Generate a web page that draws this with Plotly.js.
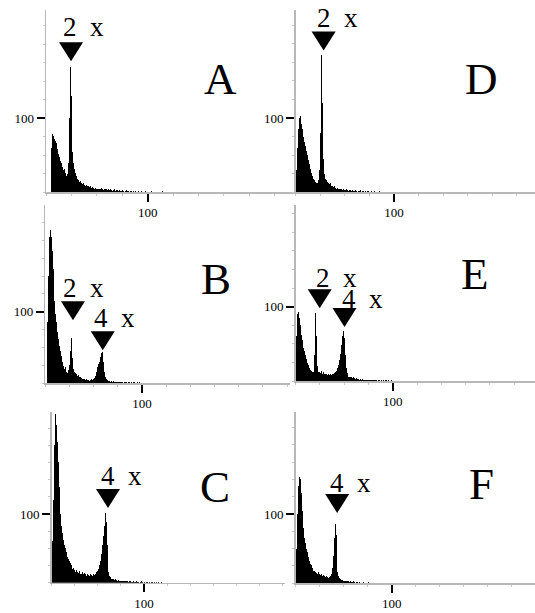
<!DOCTYPE html>
<html><head><meta charset="utf-8">
<script src="https://cdn.plot.ly/plotly-3.0.1.min.js"></script>
<style>html,body{margin:0;padding:0;background:#fff}#chart{width:535px;height:613px}</style>
</head><body><div id="chart"></div>
<script>
// ---------------- DATA ----------------
const panelNames = ['A', 'B', 'C', 'D', 'E', 'F'];
const tickValue = 100;
const tickLabel = '100';

// histogram counts per channel, starting at channel start*
const startA = 5;
const countsA = [60, 79, 76, 72, 70, 66, 58, 52, 48, 42, 40, 34, 30, 32, 26, 22, 25, 40, 100, 169, 130, 54, 40, 32, 26, 22,
  18, 16, 14, 15, 12, 11, 13, 10, 9, 10, 8, 9, 7, 8, 6, 7, 6, 5, 6, 5,
  5, 4, 5, 4, 6, 4, 3, 4, 5, 3, 4, 3, 4, 3, 2, 3, 4, 2, 3, 3, 2, 3, 2, 2, 3, 2, 1, 2, 3, 2, 2, 1, 2, 2, 1, 2, 1, 2, 1, 1,
  2, 1, 1, 2, 1, 0, 1, 2, 1, 1, 0, 1, 1, 2, 0, 1, 1, 0, 1, 1, 0, 1, 0, 1, 2, 0, 1, 0, 1, 1, 0, 0, 1, 0, 1, 0, 0, 1, 0, 1];

const startB = 2;
const countsB = [85, 150, 205, 215, 205, 185, 160, 135, 115, 97, 85, 72, 62, 52, 45, 38, 30, 24, 20, 22, 16, 14, 18, 25, 45, 63, 35, 20, 16,
  14, 12, 10, 11, 9, 8, 7, 6, 6, 5, 5, 4, 5, 4, 4, 3, 4, 5, 4, 5,
  7, 10, 16, 22, 26, 30, 36, 42, 44, 30, 15, 8, 5, 4, 3, 3,
  2, 3, 2, 2, 3, 1, 2, 2, 1, 2, 1, 1, 2, 1, 0, 1, 1, 2, 0, 1, 1, 0, 1, 0, 1, 1, 0, 0, 1, 0, 1, 0, 0, 1];

const startC = 1;
const countsC = [60, 120, 200, 245, 230, 205, 175, 140, 120, 100, 82, 72, 62, 55, 50, 45, 38, 35,
  32, 28, 26, 24, 20, 22, 18, 16, 19, 15, 14, 17, 13, 12, 15, 12, 11, 14, 12, 10, 12, 11, 10, 12, 11, 10, 12, 11, 13, 12, 15, 17,
  20, 26, 32, 42, 55, 68, 82, 101, 88, 55, 28, 15, 10, 8, 6, 5,
  5, 4, 5, 4, 3, 4, 3, 3, 2, 3, 2, 3, 2, 2, 3, 2, 1, 2, 2, 1, 2, 1, 2, 1, 1, 2, 1, 1, 0, 1, 2, 1, 0, 1, 1, 0, 1, 1, 0, 1, 0, 1, 1, 0, 1, 0, 0, 1, 0, 1, 0, 0, 1, 0];

const startD = 1;
const countsD = [30, 60, 85, 100, 103, 92, 85, 75, 68, 62, 55, 50, 44, 38, 32, 26, 22, 18, 16, 14, 13, 12, 16, 30, 80, 185, 120, 45, 25, 18,
  16, 14, 13, 11, 12, 9, 8, 7, 8, 6, 7, 5, 6, 5, 4, 5, 4, 3, 4, 3,
  3, 4, 3, 2, 3, 3, 2, 3, 2, 2, 3, 2, 1, 2, 2, 3, 1, 2, 2, 1, 2, 1, 2, 2, 1, 1, 2, 1, 1, 2, 1, 1, 0, 1, 2, 1, 0, 1, 1, 0,
  1, 1, 0, 1, 0, 1, 1, 0, 0, 1, 0, 1, 0, 0, 1, 0, 1, 0, 0, 1, 0, 0, 1, 0, 1, 0, 0, 1, 0, 0, 1, 0, 0, 1, 0, 0, 0, 1, 0, 0];

const startE = 1;
const countsE = [60, 90, 93, 85, 75, 62, 55, 45, 40, 35, 30, 24, 22, 18, 15, 14, 12, 10, 12, 35, 92, 60, 20, 12,
  12, 11, 13, 10, 12, 9, 10, 9, 8, 10, 8, 9, 8, 9, 10, 11, 12,
  14, 18, 22, 28, 36, 48, 60, 67, 58, 35, 18, 11, 8, 6,
  6, 5, 5, 4, 5, 4, 3, 4, 3, 3, 2, 3, 2, 3, 2, 2, 1, 2, 2, 1, 2, 1, 1, 2, 1, 1, 2, 1, 0, 1, 1, 0, 1, 1, 0, 1, 0, 1, 1, 0, 1, 0, 0, 1, 0];

const startF = 1;
const countsF = [50, 100, 140, 153, 150, 130, 105, 80, 65, 58, 50, 45, 38, 32, 28, 26, 22, 20, 18, 18,
  17, 15, 14, 16, 13, 12, 14, 11, 12, 10, 9, 10, 9, 8, 9,
  10, 14, 22, 40, 65, 86, 70, 30, 16, 10, 8, 6, 5,
  5, 4, 4, 3, 4, 3, 3, 2, 3, 2, 2, 3, 2, 1, 2, 2, 1, 2, 1, 2, 1, 1, 2, 1, 1, 0, 1, 2, 1, 0, 1, 1, 0, 1, 0, 1, 1, 0, 1, 0, 0, 1, 0, 1, 0, 0, 1, 0, 1, 0, 0, 0, 1, 0, 1, 0, 0, 1, 0, 0, 1, 0];

// peak markers (channel, count) and their labels
const markerChanA = [24.6];        const markerCountA = [177];        const markerTextA = ['2 x'];
const markerChanB = [28.6, 59.4];  const markerCountB = [88, 46];     const markerTextB = ['2 x', '4 x'];
const markerChanC = [61];          const markerCountC = [108.7];      const markerTextC = ['4 x'];
const markerChanD = [28.4];        const markerCountD = [191];        const markerTextD = ['2 x'];
const markerChanE = [24.9, 50.4];  const markerCountE = [98, 72.7];   const markerTextE = ['2 x', '4 x'];
const markerChanF = [43.2];        const markerCountF = [101.4];      const markerTextF = ['4 x'];

// ---------------- LAYOUT / STYLE ----------------
const W = 535, H = 613;
const FONT = 'Liberation Serif, DejaVu Serif, serif';
// pixel geometry of each panel's axes
const geom = {
  A: {x0: 46,    x100: 147.7, xEnd: 295, y0: 192.3, y100: 118.3, yTop: 10,    letter: [220.5, 79.5]},
  B: {x0: 45.3,  x100: 142,   xEnd: 290, y0: 383,   y100: 311.7, yTop: 205,   letter: [215.5, 278.5]},
  C: {x0: 51.7,  x100: 144,   xEnd: 285, y0: 582.7, y100: 514,   yTop: 411.7, letter: [215, 486.7]},
  D: {x0: 295.7, x100: 394,   xEnd: 535, y0: 192.3, y100: 118,   yTop: 10,    letter: [481, 79]},
  E: {x0: 295.5, x100: 392.7, xEnd: 535, y0: 381,   y100: 306.7, yTop: 205,   letter: [474.5, 274]},
  F: {x0: 295.7, x100: 391.7, xEnd: 535, y0: 583.3, y100: 514,   yTop: 411.7, letter: [481, 484]}
};
// label offsets (glyph-left dx, centre dy) relative to triangle apex, px
const labelOffsets = {
  A: [[-7, -34.5]], B: [[-9, -32.5], [-7.7, -32.5]], C: [[-6.3, -31.7]],
  D: [[-5.5, -32]], E: [[-3, -30.5], [-1.5, -28]], F: [[-6.2, -29.7]]
};

const dataSets = {
  A: {start: startA, counts: countsA, mc: markerChanA, mv: markerCountA, mt: markerTextA},
  B: {start: startB, counts: countsB, mc: markerChanB, mv: markerCountB, mt: markerTextB},
  C: {start: startC, counts: countsC, mc: markerChanC, mv: markerCountC, mt: markerTextC},
  D: {start: startD, counts: countsD, mc: markerChanD, mv: markerCountD, mt: markerTextD},
  E: {start: startE, counts: countsE, mc: markerChanE, mv: markerCountE, mt: markerTextE},
  F: {start: startF, counts: countsF, mc: markerChanF, mv: markerCountF, mt: markerTextF}
};

const traces = [];
const layout = {
  width: W, height: H, autosize: false,
  margin: {l: 0, r: 0, t: 0, b: 0, pad: 0},
  paper_bgcolor: '#fff', plot_bgcolor: 'rgba(0,0,0,0)',
  showlegend: false, bargap: 0,
  font: {family: FONT, size: 13, color: '#000'},
  shapes: [], annotations: []
};

panelNames.forEach((name, i) => {
  const g = geom[name], d = dataSets[name];
  const n = i + 1;
  const xa = 'x' + n, ya = 'y' + n;
  const xKey = 'xaxis' + (n === 1 ? '' : n), yKey = 'yaxis' + (n === 1 ? '' : n);
  const xRangeMax = 100 * (g.xEnd - g.x0) / (g.x100 - g.x0);
  const yRangeMax = 100 * (g.y0 - g.yTop) / (g.y0 - g.y100);

  traces.push({
    type: 'bar', xaxis: xa, yaxis: ya,
    x: d.counts.map((_, k) => d.start + k),
    y: d.counts,
    width: 1,
    marker: {color: '#000', line: {width: 0}},
    hoverinfo: 'skip'
  });

  const axisCommon = {
    showgrid: false, zeroline: false, showline: true, linecolor: '#b8b8b8', linewidth: 1.5,
    tickmode: 'array', tickvals: [tickValue], ticktext: [tickLabel],
    ticks: 'outside', ticklen: 8, tickwidth: 2, tickcolor: '#000',
    tickfont: {family: FONT, size: 13, color: '#000'},
    minor: {dtick: 25, tick0: 0, ticks: 'outside', ticklen: 2, tickwidth: 1, tickcolor: '#c8c8c8'},
    fixedrange: true
  };
  layout[xKey] = Object.assign({domain: [g.x0 / W, g.xEnd / W], range: [0, xRangeMax], anchor: ya}, axisCommon);
  layout[yKey] = Object.assign({domain: [1 - g.y0 / H, 1 - g.yTop / H], range: [0, yRangeMax], anchor: xa}, axisCommon);

  d.mc.forEach((c, k) => {
    layout.shapes.push({
      type: 'path', xref: xa, yref: ya,
      xsizemode: 'pixel', ysizemode: 'pixel',
      xanchor: c, yanchor: d.mv[k],
      path: 'M-12,19 L12,19 L0,0 Z',
      fillcolor: '#000', line: {width: 0}, layer: 'above'
    });
    const off = labelOffsets[name][k];
    layout.annotations.push({
      xref: xa, yref: ya, x: c, y: d.mv[k],
      text: d.mt[k].replace(' ', '\u00a0\u00a0'),
      showarrow: false, xanchor: 'left', yanchor: 'middle',
      xshift: off[0] - 3, yshift: -off[1],
      font: {family: FONT, size: 27, color: '#000'}
    });
  });

  layout.annotations.push({
    xref: 'paper', yref: 'paper', x: g.letter[0] / W, y: 1 - g.letter[1] / H,
    text: name, showarrow: false, xanchor: 'center', yanchor: 'middle',
    font: {family: FONT, size: 45, color: '#000'}
  });
});

Plotly.newPlot('chart', traces, layout, {staticPlot: true, displayModeBar: false});
</script>
</body></html>
